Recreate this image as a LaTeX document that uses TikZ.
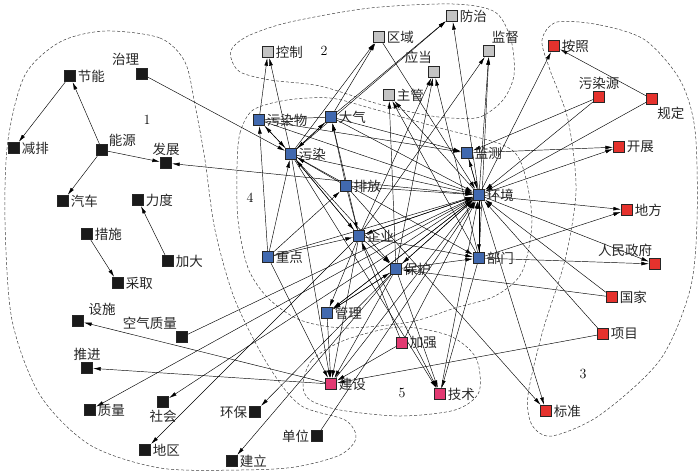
\documentclass[tikz,border=0pt]{standalone}
\usepackage{fontspec}
\usetikzlibrary{arrows.meta,backgrounds}
\newfontfamily\cjk{Noto Sans CJK SC}
\definecolor{termblack}{HTML}{1A1A1A}
\definecolor{termgray}{HTML}{C4C4C4}
\definecolor{termblue}{HTML}{4169AF}
\definecolor{termred}{HTML}{E5322D}
\definecolor{termpink}{HTML}{E23A72}

\begin{document}
\begin{tikzpicture}[
    x=1pt, y=-1pt,
    term/.style={draw=black!85, line width=0.8pt, minimum size=11.5pt, inner sep=0pt},
    termA/.style={term, fill=termblack},
    termB/.style={term, fill=termgray},
    termC/.style={term, fill=termblue},
    termD/.style={term, fill=termred},
    termE/.style={term, fill=termpink},
    every label/.style={font=\cjk\fontsize{13.5}{15}\selectfont, inner sep=1.5pt, text=black!85},
    groupno/.style={font=\fontsize{14}{16}\selectfont},
    arr/.style={-{Latex[length=7.5pt,width=3.8pt]}, line width=0.45pt},
    line/.style={line width=0.45pt},
    group/.style={dash pattern=on 3pt off 2pt, line width=0.5pt, black!75},
]
    \useasboundingbox (0,0) rectangle (700,472);

    \node[termA, label=0:节能] (jieneng) at (70,76) {};
    \node[termA, label={[label distance=1pt]100:治理}] (zhili) at (142,74) {};
    \node[termA, label=0:减排] (jianpai) at (14,148) {};
    \node[termA, label={[label distance=-1pt]20:能源}] (nengyuan) at (102,150) {};
    \node[termA, label=90:发展] (fazhan) at (166,163) {};
    \node[termA, label=0:汽车] (qiche) at (63,201) {};
    \node[termA, label=0:力度] (lidu) at (138,200) {};
    \node[termA, label=0:措施] (cuoshi) at (87,234) {};
    \node[termA, label=0:加大] (jiada) at (168,261) {};
    \node[termA, label=0:采取] (caiqu) at (118,283) {};
    \node[termA, label={[label distance=3pt]20:设施}] (sheshi) at (78,321) {};
    \node[termA, label=120:空气质量] (kongqi) at (182,337) {};
    \node[termA, label=90:推进] (tuijin) at (87,368) {};
    \node[termA, label=0:质量] (zhiliang) at (90,410) {};
    \node[termA, label=-90:社会] (shehui) at (163,402) {};
    \node[termA, label=180:环保] (huanbao) at (255,412) {};
    \node[termA, label=0:地区] (diqu) at (145,450) {};
    \node[termA, label=0:建立] (jianli) at (232,461) {};
    \node[termA, label=180:单位] (danwei) at (317,436) {};

    \node[termB, label=0:防治] (fangzhi) at (452,16) {};
    \node[termB, label=0:区域] (quyu) at (379,37) {};
    \node[termB, label=0:控制] (kongzhi) at (268,52) {};
    \node[termB, label=80:监督] (jiandu) at (489,51) {};
    \node[termB, label=95:应当] (yingdang) at (434,72) {};
    \node[termB, label=0:主管] (zhuguan) at (389,95) {};

    \node[termC, label=0:污染物] (wuranwu) at (259,120) {};
    \node[termC, label=0:大气] (daqi) at (331,117) {};
    \node[termC, label=0:污染] (wuran) at (291,154) {};
    \node[termC, label=0:排放] (paifang) at (346,186) {};
    \node[termC, label=0:监测] (jiance) at (467,153) {};
    \node[termC, label=0:环境] (huanjing) at (479,195) {};
    \node[termC, label=0:重点] (zhongdian) at (268,257) {};
    \node[termC, label=0:企业] (qiye) at (359,236) {};
    \node[termC, label=0:保护] (baohu) at (396,269) {};
    \node[termC, label=0:部门] (bumen) at (479,258) {};
    \node[termC, label=0:管理] (guanli) at (327,313) {};

    \node[termE, label=0:加强] (jiaqiang) at (402,343) {};
    \node[termE, label=0:建设] (jianshe) at (331,384) {};
    \node[termE, label=0:技术] (jishu) at (440,394) {};

    \node[termD, label=0:按照] (anzhao) at (554,46) {};
    \node[termD, label=90:污染源] (wuranyuan) at (599,97) {};
    \node[termD, label=-60:规定] (guiding) at (652,99) {};
    \node[termD, label=0:开展] (kaizhan) at (619,147) {};
    \node[termD, label=0:地方] (difang) at (627,210) {};
    \node[termD, label=100:人民政府] (zhengfu) at (655,264) {};
    \node[termD, label=0:国家] (guojia) at (612,297) {};
    \node[termD, label=0:项目] (xiangmu) at (603,334) {};
    \node[termD, label=0:标准] (biaozhun) at (546,411) {};

    \node[groupno] (no1) at (147,120) {1};
    \node[groupno] (no2) at (324,51) {2};
    \node[groupno] (no3) at (583,374) {3};
    \node[groupno] (no4) at (250,198) {4};
    \node[groupno] (no5) at (402,393) {5};

    \begin{scope}[on background layer]
        \draw[group] plot[smooth cycle] coordinates {(105,31) (160,38) (185,62) (195,105) (205,160) (215,230) (235,300) (268,365) (300,405) (345,420) (356,438) (340,455) (295,467) (240,470) (160,468) (90,445) (40,395) (12,320) (5,220) (8,140) (25,75) (60,42)};
        \draw[group] plot[smooth cycle] coordinates {(233,47) (250,35) (290,22) (370,8) (453,4) (495,12) (511,40) (514,75) (503,100) (480,117) (450,118) (420,114) (375,103) (320,86) (270,80) (240,72) (231,58)};
        \draw[group] plot[smooth cycle] coordinates {(237,167) (240,133) (253,110) (287,100) (330,98) (370,108) (440,128) (503,145) (522,165) (532,220) (522,272) (495,296) (455,308) (410,322) (345,328) (300,320) (268,298) (248,268) (238,220)};
        \draw[group] plot[smooth cycle] coordinates {(303,385) (312,360) (345,340) (400,327) (450,336) (476,358) (479,392) (455,410) (400,416) (340,410) (310,400)};
        \draw[group] plot[smooth cycle] coordinates {(557,22) (600,25) (645,40) (680,80) (695,130) (697,220) (690,290) (660,360) (600,415) (552,436) (532,425) (528,395) (543,330) (565,260) (576,190) (568,120) (550,70) (542,40)};

        \draw[arr] (nengyuan) edge (jieneng) edge (qiche) edge (fazhan);
        \draw[arr] (jieneng) edge (jianpai);
        \draw[arr] (jiada) edge (lidu);
        \draw[arr] (cuoshi) edge (caiqu);
        \draw[arr] (zhili) edge (wuran);
        \draw[arr] (jianshe) edge (sheshi) edge (tuijin) edge (huanjing);
        \draw[arr] (kongqi) edge (huanjing);
        \draw[arr] (danwei) edge (huanjing);
        \draw[arr] (huanjing) edge (fazhan) edge (zhiliang) edge (shehui) edge (fangzhi) edge (zhuguan) edge (jiandu) edge (guanli) edge (baohu) edge (qiye) edge (bumen) edge (jiance) edge (anzhao) edge (kaizhan) edge (difang) edge (zhengfu) edge (biaozhun);
        \draw[arr] (qiye) edge (diqu) edge (yingdang) edge (jiandu) edge (wuran) edge (daqi) edge (jishu) edge (jianshe) edge (baohu) edge (guanli) edge (huanjing) edge (bumen);
        \draw[arr] (baohu) edge (huanbao) edge (jianli) edge (yingdang) edge (zhuguan) edge (jishu) edge (jianshe) edge (guanli) edge (huanjing) edge (bumen);
        \draw[arr] (bumen) edge (yingdang) edge (zhuguan) edge (jiandu) edge (huanjing) edge (jishu) edge (difang) edge (zhengfu);
        \draw[arr] (wuranwu) edge (kongzhi) edge (wuran) edge (huanjing) edge (jiance);
        \draw[arr] (wuran) edge (kongzhi) edge (quyu) edge (fangzhi) edge (wuranwu) edge (daqi) edge (qiye) edge (baohu) edge (jishu) edge (jianshe) edge (huanjing) edge (bumen);
        \draw[arr] (daqi) edge (quyu) edge (fangzhi) edge (wuran) edge (huanjing) edge (jiance);
        \draw[line] (wuranwu) -- (daqi);
        \draw[arr] (paifang) edge (daqi) edge (wuran) edge (qiye) edge (huanjing) edge (biaozhun);
        \draw[arr] (zhongdian) edge (wuranwu) edge (wuran) edge (qiye) edge (paifang) edge (jianshe) edge (huanjing);
        \draw[arr] (jiance) edge (huanjing) edge (kaizhan);
        \draw[arr] (guanli) edge (jianshe) edge (huanjing) edge (baohu);
        \draw[arr] (jiaqiang) edge (jianshe) edge (huanjing) edge (qiye);
        \draw[arr] (jishu) edge (huanjing);
        \draw[arr] (quyu) edge (huanjing);
        \draw[arr] (guiding) edge (anzhao) edge (huanjing);
        \draw[arr] (wuranyuan) edge (jiance) edge (huanjing);
        \draw[arr] (guojia) edge (huanjing) edge (baohu);
        \draw[arr] (xiangmu) edge (huanjing) edge (jianshe);
    \end{scope}
\end{tikzpicture}
\end{document}
